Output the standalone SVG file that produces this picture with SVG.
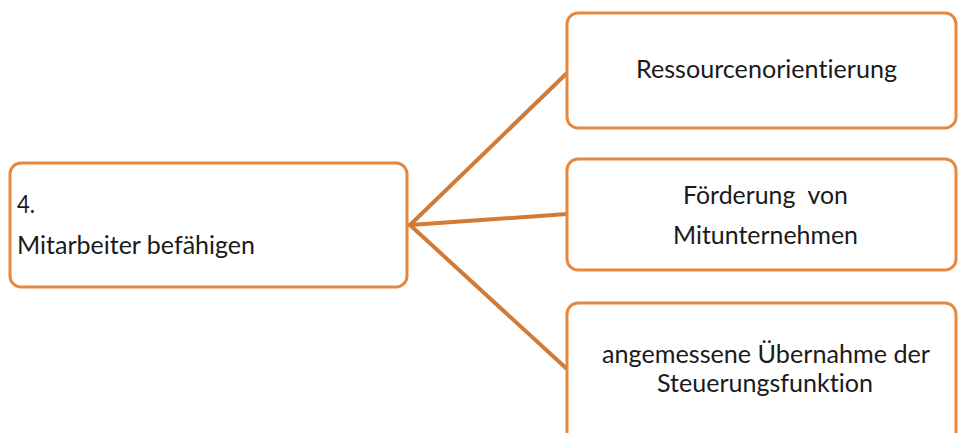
<svg xmlns="http://www.w3.org/2000/svg" width="958" height="433" viewBox="0 0 958 433">
  <style>
    .box { fill: #ffffff; stroke: #E5883F; stroke-width: 3; }
    .link { stroke: #D27B36; stroke-width: 4; stroke-linecap: round; fill: none; }
    .lbl { font-family: Lato, "Open Sans", "Liberation Sans", sans-serif; font-size: 25px; fill: #1a1a1a; font-variant-ligatures: none; }
  </style>
  <rect width="958" height="433" fill="#ffffff"/>

  <g id="connectors">
    <line class="link" x1="410" y1="225" x2="567" y2="73"/>
    <line class="link" x1="410" y1="225" x2="567" y2="214"/>
    <line class="link" x1="410" y1="225" x2="567" y2="369"/>
  </g>

  <g id="node-main">
    <rect class="box" x="10" y="163" width="397" height="124" rx="11"/>
    <text class="lbl" x="17" y="213" textLength="18" lengthAdjust="spacingAndGlyphs">4.</text>
    <text class="lbl" x="17" y="254" textLength="238" lengthAdjust="spacingAndGlyphs">Mitarbeiter befähigen</text>
  </g>

  <g id="node-ressourcen">
    <rect class="box" x="567" y="13" width="389" height="115" rx="11"/>
    <text class="lbl" x="636" y="78" textLength="261" lengthAdjust="spacingAndGlyphs">Ressourcenorientierung</text>
  </g>

  <g id="node-foerderung">
    <rect class="box" x="567" y="159" width="389" height="111" rx="11"/>
    <text class="lbl" x="683" y="204" textLength="165" lengthAdjust="spacingAndGlyphs" xml:space="preserve">Förderung  von</text>
    <text class="lbl" x="673" y="244" textLength="185" lengthAdjust="spacingAndGlyphs">Mitunternehmen</text>
  </g>

  <g id="node-steuerung">
    <rect class="box" x="567" y="303" width="389" height="150" rx="11"/>
    <text class="lbl" x="602" y="363" textLength="328" lengthAdjust="spacingAndGlyphs">angemessene Übernahme der</text>
    <text class="lbl" x="657" y="392" textLength="216" lengthAdjust="spacingAndGlyphs">Steuerungsfunktion</text>
  </g>
</svg>
